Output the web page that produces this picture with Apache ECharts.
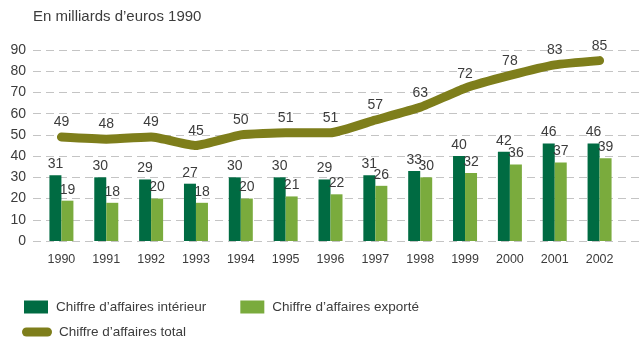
<!DOCTYPE html>
<html>
<head>
<meta charset="utf-8">
<script src="https://cdn.jsdelivr.net/npm/echarts@6/dist/echarts.min.js"></script>
<style>
  html, body { margin: 0; padding: 0; background: #fff; }
  #chart { width: 643px; height: 337px; }
</style>
</head>
<body>
<div id="chart"></div>
<script>
// Years on the category axis
const years = ['1990','1991','1992','1993','1994','1995','1996','1997','1998','1999','2000','2001','2002'];
// Domestic turnover (billions of 1990 euros)
const interieur = [31, 30, 29, 27, 30, 30, 29, 31, 33, 40, 42, 46, 46];
// Export turnover
const exporte = [19, 18, 20, 18, 20, 21, 22, 26, 30, 32, 36, 37, 39];
// Total turnover
const total = [49, 48, 49, 45, 50, 51, 51, 57, 63, 72, 78, 83, 85];

const seriesNames = ['Chiffre d’affaires intérieur', 'Chiffre d’affaires exporté', 'Chiffre d’affaires total'];

const FONT = '"Liberation Sans", Arial, sans-serif';
const TXT = '#3c3c3c';
const DASH = { color: '#c4c4c4', width: 1, type: [8, 5] };

const chart = echarts.init(document.getElementById('chart'));
chart.setOption({
  animation: false,
  textStyle: { fontFamily: FONT },
  title: {
    text: 'En milliards d’euros 1990',
    left: 33, top: 9, padding: 0,
    textStyle: { fontFamily: FONT, fontSize: 15, fontWeight: 'normal', color: TXT }
  },
  grid: [
    { left: 39, right: 21, top: 50, bottom: 96 },
    // wider grid that only carries the dashed guide lines
    { left: 33, right: 3, top: 50, bottom: 96 }
  ],
  legend: [
    {
      data: [seriesNames[0], seriesNames[1]],
      left: 24, top: 300, padding: 0,
      itemWidth: 24, itemHeight: 13, itemGap: 34,
      icon: 'rect',
      textStyle: { fontFamily: FONT, fontSize: 13.5, color: TXT, padding: [0, 0, 0, 3] }
    },
    {
      data: [seriesNames[2]],
      left: 22, top: 325, padding: 0,
      itemWidth: 30, itemHeight: 9,
      icon: 'path://M4.5,0 L25.5,0 A4.5,4.5 0 0 1 25.5,9 L4.5,9 A4.5,4.5 0 0 1 4.5,0 Z',
      textStyle: { fontFamily: FONT, fontSize: 13.5, color: TXT, padding: [0, 0, 0, 2] }
    }
  ],
  xAxis: [
    {
      type: 'category',
      data: years,
      gridIndex: 0,
      axisLine: { show: false },
      axisTick: { show: false },
      axisLabel: { fontFamily: FONT, fontSize: 12.5, color: TXT, margin: 12 }
    },
    { type: 'category', data: years, gridIndex: 1, show: false }
  ],
  yAxis: [
    {
      type: 'value',
      gridIndex: 0,
      min: 0, max: 90, interval: 10,
      axisLine: { show: false },
      axisTick: { show: false },
      axisLabel: { fontFamily: FONT, fontSize: 14, color: TXT, margin: 13 },
      splitLine: { show: false }
    },
    {
      type: 'value',
      gridIndex: 1,
      min: 0, max: 90, interval: 10,
      axisLine: { show: false },
      axisTick: { show: false },
      axisLabel: { show: false },
      splitLine: { lineStyle: DASH }
    }
  ],
  series: [
    {
      name: seriesNames[0], type: 'bar', data: interieur,
      barWidth: 12, barGap: '0%',
      itemStyle: { color: '#006b42' },
      label: { show: true, position: 'top', distance: 4, fontFamily: FONT, fontSize: 14, color: TXT },
      z: 2
    },
    {
      name: seriesNames[1], type: 'bar', data: exporte,
      barWidth: 12, barGap: '0%',
      itemStyle: { color: '#7aab3d' },
      label: { show: true, position: 'top', distance: 4, fontFamily: FONT, fontSize: 14, color: TXT },
      z: 2
    },
    {
      name: seriesNames[2], type: 'line', data: total,
      symbol: 'circle', symbolSize: 1, showSymbol: true,
      smooth: 0.15,
      lineStyle: { color: '#7e7e1b', width: 9, cap: 'round', join: 'round' },
      itemStyle: { color: '#7e7e1b' },
      label: { show: true, position: 'top', distance: 7, fontFamily: FONT, fontSize: 14, color: TXT },
      z: 3
    }
  ]
});
</script>
</body>
</html>
